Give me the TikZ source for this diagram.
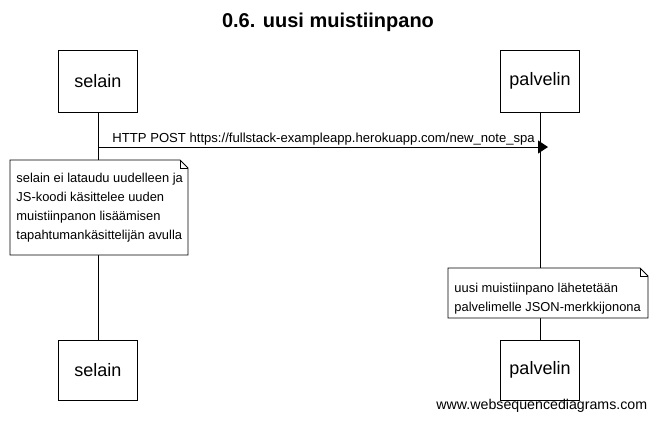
\documentclass[tikz,border=0pt]{standalone}
\usepackage{fontspec}
\setmainfont{Liberation Sans}
\usetikzlibrary{positioning,arrows.meta}

\tikzset{
    actor/.style = {draw, fill=white, minimum width=79pt, minimum height=62pt,
                    font=\fontsize{18}{20}\selectfont},
    notetext/.style = {align=left, inner sep=0pt,
                       font=\fontsize{12.9}{19}\selectfont},
    msg/.style = {-{Triangle[length=10pt,width=13pt]}},
}

\begin{document}
\begin{tikzpicture}[x=1pt, y=-1pt, line width=0.9pt]
    \useasboundingbox (0,0) rectangle (655,421);
    \node[font=\bfseries\fontsize{20}{22}\selectfont] (title) at (328,22) {0.6. uusi muistiinpano};

    \node[actor] (s0) at (98,81) {selain};
    \node[actor] (p0) at (540,81) {palvelin};
    \node[actor, minimum height=60pt] (s1) at (98,370) {selain};
    \node[actor, minimum height=60pt] (p1) at (540,370) {palvelin};

    % lifelines
    \draw (s0) -- (s1);
    \draw (p0) -- (p1);

    % message
    \coordinate (m0) at (98,147);
    \coordinate (m1) at (548,147);
    \draw[msg] (m0) -- (m1);
    \node[anchor=base west, inner sep=0pt, font=\fontsize{13.1}{14}\selectfont] (lbl) at (112,142)
        {HTTP POST https://fullstack-exampleapp.herokuapp.com/new\_note\_spa};

    % notes
    \draw[fill=white] (10,160) -- (180,160) -- (188,168) -- (188,255) -- (10,255) -- cycle;
    \draw (180,160) -- (180,168) -- (188,168);
    \node[notetext, anchor=north west] (n1) at (16,173)
        {selain ei lataudu uudelleen ja\\JS-koodi käsittelee uuden\\muistiinpanon lisäämisen\\tapahtumankäsittelijän avulla};

    \draw[fill=white] (448,268) -- (640,268) -- (648,276) -- (648,318) -- (448,318) -- cycle;
    \draw (640,268) -- (640,276) -- (648,276);
    \node[notetext, anchor=north west] (n2) at (454,283)
        {uusi muistiinpano lähetetään\\palvelimelle JSON-merkkijonona};

    \node[font=\fontsize{14.2}{15}\selectfont, anchor=east] (wsd) at (651,406) {www.websequencediagrams.com};
\end{tikzpicture}
\end{document}
